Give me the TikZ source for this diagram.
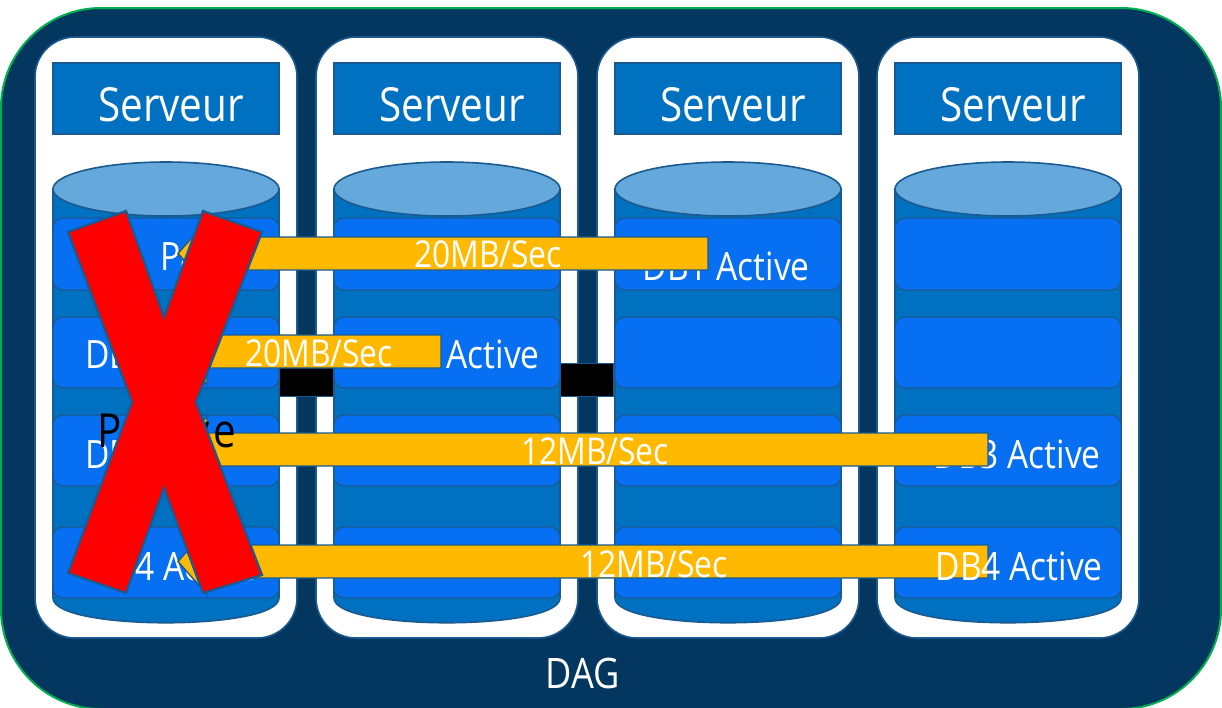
\documentclass[tikz,border=0pt]{standalone}
\usepackage{fontspec}
\newfontfamily\segoe[FakeStretch=0.86]{Open Sans}
\definecolor{navy}{HTML}{03375F}
\definecolor{dagGreen}{HTML}{00B050}
\definecolor{edgeBlue}{HTML}{1A5A90}
\definecolor{hdrBlue}{HTML}{0070C0}
\definecolor{topBlue}{HTML}{65A9DC}
\definecolor{slotBlue}{HTML}{0770F2}
\definecolor{barYellow}{HTML}{FFB900}
\begin{document}
\begin{tikzpicture}[x=1pt,y=-1pt,
  panelbox/.style={fill=white,draw=edgeBlue,line width=1.6pt,rounded corners=40pt},
  hdrbox/.style={fill=hdrBlue,draw=edgeBlue,line width=1.6pt},
  cylbody/.style={fill=hdrBlue,draw=edgeBlue,line width=1.6pt},
  cyltop/.style={fill=topBlue,draw=edgeBlue,line width=1.6pt},
  slotbox/.style={fill=slotBlue,draw=edgeBlue,line width=1.2pt,rounded corners=10pt},
  linkbox/.style={fill=black,draw=edgeBlue,line width=0.8pt},
  flow/.style={fill=barYellow,draw=edgeBlue,line width=1.4pt},
  cross/.style={fill=red,draw=edgeBlue,line width=2.2pt},
  hdrtxt/.style={inner sep=0pt,anchor=base,text=white,font=\segoe\fontsize{47}{50}\selectfont},
  dbtxt/.style={inner sep=0pt,text=white,font=\segoe\fontsize{39}{42}\selectfont},
  ratetxt/.style={inner sep=0pt,anchor=base,text=white,font=\segoe\fontsize{37}{40}\selectfont},
  darktxt/.style={inner sep=0pt,text=black,font=\segoe\fontsize{47}{50}\selectfont},
  dagtxt/.style={inner sep=0pt,anchor=base,text=white,font=\segoe\fontsize{42}{45}\selectfont}]
\useasboundingbox (0,0) rectangle (1222,707);
% DAG container
\draw[fill=navy,draw=dagGreen,line width=2pt,rounded corners=100pt] (1,8) rectangle (1221,709);
% servers
\foreach \o/\i in {0/1,281/2,562/3,842/4}{
  \draw[panelbox] (35+\o,37) rectangle (297+\o,638);
  \draw[hdrbox] (53+\o,63) rectangle (279+\o,134);
  \node[hdrtxt] (srv\i) at (171+\o,121) {Serveur};
  \draw[cylbody] (53+\o,189) -- (53+\o,598) .. controls (53+\o,631) and (279+\o,631) .. (279+\o,598) -- (279+\o,189) -- cycle;
  \draw[cyltop] (166+\o,189) ellipse [x radius=113, y radius=27];
  \draw[slotbox] (53+\o,218) rectangle (279+\o,290);
  \draw[slotbox] (53+\o,317) rectangle (279+\o,388);
  \draw[slotbox] (53+\o,415) rectangle (279+\o,486);
  \draw[slotbox] (53+\o,527) rectangle (279+\o,598);
}
% database labels
\node[dbtxt,anchor=base west] (a1) at (160,270) {Passive};
\node[dbtxt,anchor=base west] (a2) at (85,368) {DB2};
\node[dbtxt,anchor=base west] (a3) at (85,468) {DB3};
\node[dbtxt,anchor=base west] (a4) at (89,580) {DB4 Active};
\node[dbtxt,anchor=base east] (b2) at (540,368) {DB2 Active};
\node[dbtxt,anchor=base east] (c1) at (810,280) {DB1 Active};
\node[dbtxt,anchor=base east] (d3) at (1101,468) {DB3 Active};
% links
\draw[linkbox] (279,363) rectangle (333,396);
\draw[linkbox] (560,363) rectangle (613,396);
% replication flows
\draw[flow] (178,253.5) -- (207,220.5) -- (207,237) -- (708,237) -- (708,270) -- (207,270) -- (207,286.5) -- cycle;
\draw[flow] (178,351.5) -- (207,318.5) -- (207,335) -- (441,335) -- (441,368) -- (207,368) -- (207,384.5) -- cycle;
\draw[flow] (178,449.5) -- (207,416.5) -- (207,433) -- (988,433) -- (988,466) -- (207,466) -- (207,482.5) -- cycle;
\draw[flow] (178,561.5) -- (207,528.5) -- (207,545) -- (988,545) -- (988,578) -- (207,578) -- (207,594.5) -- cycle;
\node[ratetxt] (r1) at (488,267) {20MB/Sec};
\node[ratetxt] (r2) at (319,366) {20MB/Sec};
\node[ratetxt] (r3) at (595,464) {12MB/Sec};
\node[ratetxt] (r4) at (654,577) {12MB/Sec};
\node[dbtxt,anchor=base east] (d4) at (1103,580) {DB4 Active};
% failed server label
\node[darktxt,anchor=base east] (fail) at (236,447) {Passi\kern-3pt v\kern3pt e};
% red cross
\draw[cross] (68,232) -- (126,211) -- (164,317) -- (203,211) -- (262,232) -- (196,402) -- (262,575) -- (203,593) -- (164,488) -- (126,593) -- (68,573) -- (132,402) -- cycle;
\node[dagtxt] (dag) at (583,688) {DAG};
\end{tikzpicture}
\end{document}
